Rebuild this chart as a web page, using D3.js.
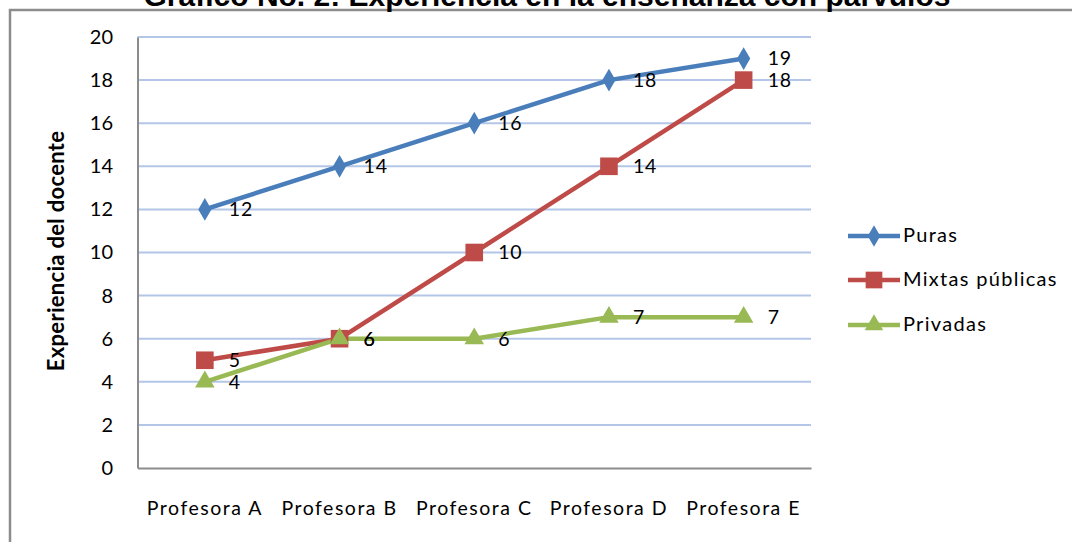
<!DOCTYPE html>
<html>
<head>
<meta charset="utf-8">
<script src="https://cdn.jsdelivr.net/npm/d3@7/dist/d3.min.js"></script>
<style>
  html, body { margin: 0; padding: 0; background: #fff; }
  svg { display: block; }
</style>
</head>
<body>
<svg id="chart" width="1072" height="542"></svg>
<script>
const categories = ["Profesora A", "Profesora B", "Profesora C", "Profesora D", "Profesora E"];
const seriesNames = ["Puras", "Mixtas públicas", "Privadas"];
const puras = [12, 14, 16, 18, 19];
const mixtasPublicas = [5, 6, 10, 14, 18];
const privadas = [4, 6, 6, 7, 7];
const yTicks = [0, 2, 4, 6, 8, 10, 12, 14, 16, 18, 20];
const titleText = "Gráfico No. 2: Experiencia en la enseñanza con párvulos";
const yAxisTitle = "Experiencia del docente";

const series = [
  { name: seriesNames[0], values: puras, color: "#4a7ebb", symbol: d3.symbolDiamond, size: 150 },
  { name: seriesNames[1], values: mixtasPublicas, color: "#be4b48", symbol: d3.symbolSquare, size: 310 },
  { name: seriesNames[2], values: privadas, color: "#98b954", symbol: d3.symbolTriangle, size: 165 }
];

const svg = d3.select("#chart");
const font = "Lato, 'Open Sans', sans-serif";

// frame
svg.append("path")
  .attr("d", "M10,1000 L10,10 L1100,10")
  .attr("fill", "none").attr("stroke", "#8c8c8c").attr("stroke-width", 2.5);

// title (clipped at top, as in the reference)
svg.append("text")
  .attr("x", 547).attr("y", 6)
  .attr("text-anchor", "middle")
  .attr("font-family", "'Liberation Sans', Arial, sans-serif")
  .attr("font-weight", "bold").attr("font-size", 30)
  .attr("fill", "#000")
  .text(titleText);

const plot = { left: 137.5, right: 811, top: 37, bottom: 468 };

const x = d3.scaleBand().domain(categories).range([plot.left, plot.right]);
const y = d3.scaleLinear().domain([0, 20]).range([plot.bottom, plot.top]);
const cx = c => x(c) + x.bandwidth() / 2;

// gridlines
svg.append("g").selectAll("line").data(yTicks.filter(t => t > 0)).join("line")
  .attr("x1", plot.left).attr("x2", plot.right)
  .attr("y1", d => y(d)).attr("y2", d => y(d))
  .attr("stroke", "#b4c6e7").attr("stroke-width", 2);

// y axis
const yAxis = d3.axisLeft(y).tickValues(yTicks).tickSize(0).tickPadding(24);
const gy = svg.append("g").attr("transform", `translate(${plot.left},0)`).call(yAxis);
gy.select(".domain").attr("stroke", "#8c8c8c").attr("stroke-width", 2);
gy.selectAll("text").attr("font-family", font).attr("font-size", 20)
  .attr("font-weight", 400).attr("letter-spacing", 0.3).attr("fill", "#000");

// x axis
const xAxis = d3.axisBottom(x).tickSize(0).tickPadding(33);
const gx = svg.append("g").attr("transform", `translate(0,${plot.bottom})`).call(xAxis);
gx.select(".domain").attr("stroke", "#8c8c8c").attr("stroke-width", 2);
gx.selectAll("text").attr("font-family", font).attr("font-size", 19.5)
  .attr("font-weight", 400).attr("letter-spacing", 1.5).attr("fill", "#000");

// y axis title
svg.append("text")
  .attr("transform", `translate(58,251) rotate(-90)`)
  .attr("text-anchor", "middle").attr("dominant-baseline", "middle")
  .attr("font-family", font).attr("font-weight", "bold").attr("font-size", 22)
  .attr("letter-spacing", 0.3)
  .attr("fill", "#000")
  .text(yAxisTitle);

// lines
const line = d3.line().x((d, i) => cx(categories[i])).y(d => y(d));
series.forEach(s => {
  svg.append("path").datum(s.values)
    .attr("d", line).attr("fill", "none")
    .attr("stroke", s.color).attr("stroke-width", 4.5).attr("stroke-linejoin", "round");
});
series.forEach(s => {
  svg.append("g").selectAll("path").data(s.values).join("path")
    .attr("transform", (d, i) => `translate(${cx(categories[i])},${y(d)})`)
    .attr("d", d3.symbol().type(s.symbol).size(s.size))
    .attr("fill", s.color);
});
// data labels
series.forEach(s => {
  svg.append("g").selectAll("text").data(s.values).join("text")
    .attr("x", (d, i) => cx(categories[i]) + 24)
    .attr("y", d => y(d) + 2)
    .attr("dominant-baseline", "middle")
    .attr("font-family", font).attr("font-size", 19.5).attr("font-weight", 400)
    .attr("letter-spacing", 0.8).attr("fill", "#000")
    .text(d => d);
});

// legend
const legend = svg.append("g");
const legendY = [236, 280, 325];
series.forEach((s, i) => {
  const g = legend.append("g").attr("transform", `translate(0,${legendY[i]})`);
  g.append("line").attr("x1", 848).attr("x2", 900).attr("y1", 0).attr("y2", 0)
    .attr("stroke", s.color).attr("stroke-width", 4.5);
  g.append("path").attr("transform", "translate(874,0)")
    .attr("d", d3.symbol().type(s.symbol).size(s.size * 0.9)).attr("fill", s.color);
  g.append("text").attr("x", 903).attr("y", 1).attr("dominant-baseline", "middle")
    .attr("font-family", font).attr("font-size", 20).attr("font-weight", 400)
    .attr("letter-spacing", 1.3).attr("fill", "#000").text(s.name);
});
</script>
</body>
</html>
